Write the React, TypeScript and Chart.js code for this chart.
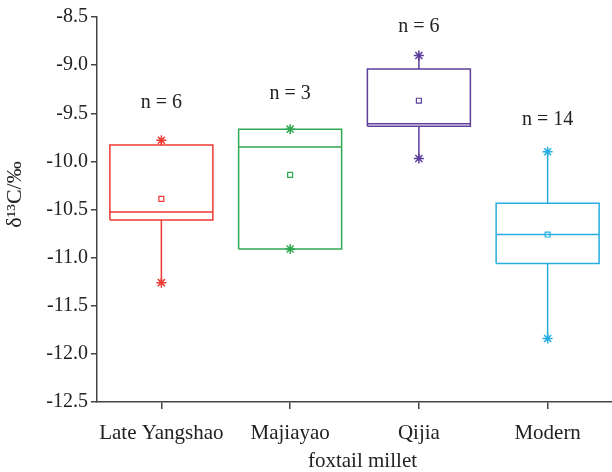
import React, { useEffect, useRef } from "react";
import { Chart, registerables } from "chart.js";

Chart.register(...registerables);

const categories = ["Late Yangshao", "Majiayao", "Qijia", "Modern"];
const minVals = [-11.26, -10.91, -9.97, -11.84];
const q1Vals = [-10.61, -10.91, -9.635, -11.06];
const medianVals = [-10.525, -9.85, -9.61, -10.76];
const q3Vals = [-9.83, -9.665, -9.04, -10.435];
const maxVals = [-9.78, -9.665, -8.9, -9.9];
const meanVals = [-10.39, -10.14, -9.37, -10.76];
const sampleCounts = [6, 3, 6, 14];
const countLabelY = [-9.39, -9.3, -8.6, -9.57];
const colors = ["#ee3a33", "#2fa852", "#5d3f9c", "#27aee0"];

const yTicksMin = -12.5;
const yTicksMax = -8.5;
const yStep = 0.5;

const BOX_HALF = 0.4;
const SERIF = '"Liberation Serif", "Times New Roman", serif';
const TEXT = "#222";
const AXIS = "#444";

export default function App() {
  const ref = useRef<HTMLCanvasElement | null>(null);

  useEffect(() => {
    if (!ref.current) return;
    const datasets: any[] = [];
    categories.forEach((_, i) => {
      const x = i + 1;
      const c = colors[i];
      datasets.push({
        type: "line",
        data: [
          { x: x - BOX_HALF, y: q1Vals[i] },
          { x: x + BOX_HALF, y: q1Vals[i] },
          { x: x + BOX_HALF, y: q3Vals[i] },
          { x: x - BOX_HALF, y: q3Vals[i] },
          { x: x - BOX_HALF, y: q1Vals[i] },
          { x: x, y: null },
          { x: x - BOX_HALF, y: medianVals[i] },
          { x: x + BOX_HALF, y: medianVals[i] },
          { x: x, y: null },
          { x: x, y: q3Vals[i] },
          { x: x, y: maxVals[i] },
          { x: x, y: null },
          { x: x, y: q1Vals[i] },
          { x: x, y: minVals[i] },
        ],
        borderColor: c,
        borderWidth: 1.5,
        pointRadius: 0,
        tension: 0,
        fill: false,
        spanGaps: false,
      });
      datasets.push({
        type: "scatter",
        data: [
          { x: x, y: maxVals[i] },
          { x: x, y: minVals[i] },
        ],
        pointStyle: "star",
        pointRadius: 5,
        borderColor: c,
        borderWidth: 1.5,
        backgroundColor: c,
      });
      datasets.push({
        type: "scatter",
        data: [{ x: x, y: meanVals[i] }],
        pointStyle: "rect",
        pointRadius: 3.5,
        borderColor: c,
        borderWidth: 1.2,
        backgroundColor: "#ffffff",
      });
    });

    const annotate = {
      id: "annotate",
      afterDraw(chart: any) {
        const { ctx, chartArea, scales } = chart;
        const xs = scales.x;
        const ys = scales.y;
        ctx.save();
        ctx.fillStyle = TEXT;
        ctx.textAlign = "center";
        ctx.textBaseline = "middle";
        ctx.font = `20px ${SERIF}`;
        sampleCounts.forEach((n, i) => {
          ctx.fillText(`n = ${n}`, xs.getPixelForValue(i + 1), ys.getPixelForValue(countLabelY[i]));
        });
        ctx.font = `21px ${SERIF}`;
        ctx.fillText("foxtail millet", (chartArea.left + chartArea.right) / 2 + 8, chartArea.bottom + 59);
        ctx.font = `22px ${SERIF}`;
        ctx.translate(15, (chartArea.top + chartArea.bottom) / 2 - 15);
        ctx.rotate(-Math.PI / 2);
        ctx.fillText("δ¹³C/‰", 0, 0);
        ctx.restore();
      },
    };

    const chart = new Chart(ref.current, {
      type: "scatter",
      data: { datasets },
      plugins: [annotate],
      options: {
        responsive: false,
        animation: false,
        devicePixelRatio: 1,
        layout: { autoPadding: false, padding: { top: 17, right: 0, left: 0, bottom: 0 } },
        plugins: { legend: { display: false }, tooltip: { enabled: false } },
        scales: {
          x: {
            type: "linear",
            min: 0.5,
            max: 4.5,
            afterBuildTicks: (scale: any) => {
              scale.ticks = categories.map((_, i) => ({ value: i + 1 }));
            },
            afterFit: (scale: any) => {
              scale.height = 70;
              scale.paddingLeft = 0;
              scale.paddingRight = 0;
            },
            ticks: {
              callback: (v: any) => categories[Math.round(Number(v)) - 1] ?? "",
              font: { family: SERIF, size: 21 },
              color: TEXT,
              padding: 12,
              maxRotation: 0,
              autoSkip: false,
            },
            grid: {
              drawOnChartArea: false,
              drawTicks: true,
              tickLength: 7,
              color: AXIS,
              lineWidth: 1.5,
            },
            border: { display: true, color: AXIS, width: 1.5 },
          },
          y: {
            type: "linear",
            min: yTicksMin,
            max: yTicksMax,
            afterFit: (scale: any) => {
              scale.width = 97;
            },
            ticks: {
              stepSize: yStep,
              callback: (v: any) => Number(v).toFixed(1),
              font: { family: SERIF, size: 20 },
              color: TEXT,
              padding: 3,
            },
            grid: {
              drawOnChartArea: false,
              drawTicks: true,
              tickLength: 6,
              color: AXIS,
              lineWidth: 1.5,
            },
            border: { display: true, color: AXIS, width: 1.5 },
          },
        },
      },
    });
    return () => chart.destroy();
  }, []);

  return (
    <div style={{ position: "absolute", left: 0, top: 0, width: 612, height: 472, background: "#fff" }}>
      <canvas ref={ref} width={612} height={472} />
    </div>
  );
}
